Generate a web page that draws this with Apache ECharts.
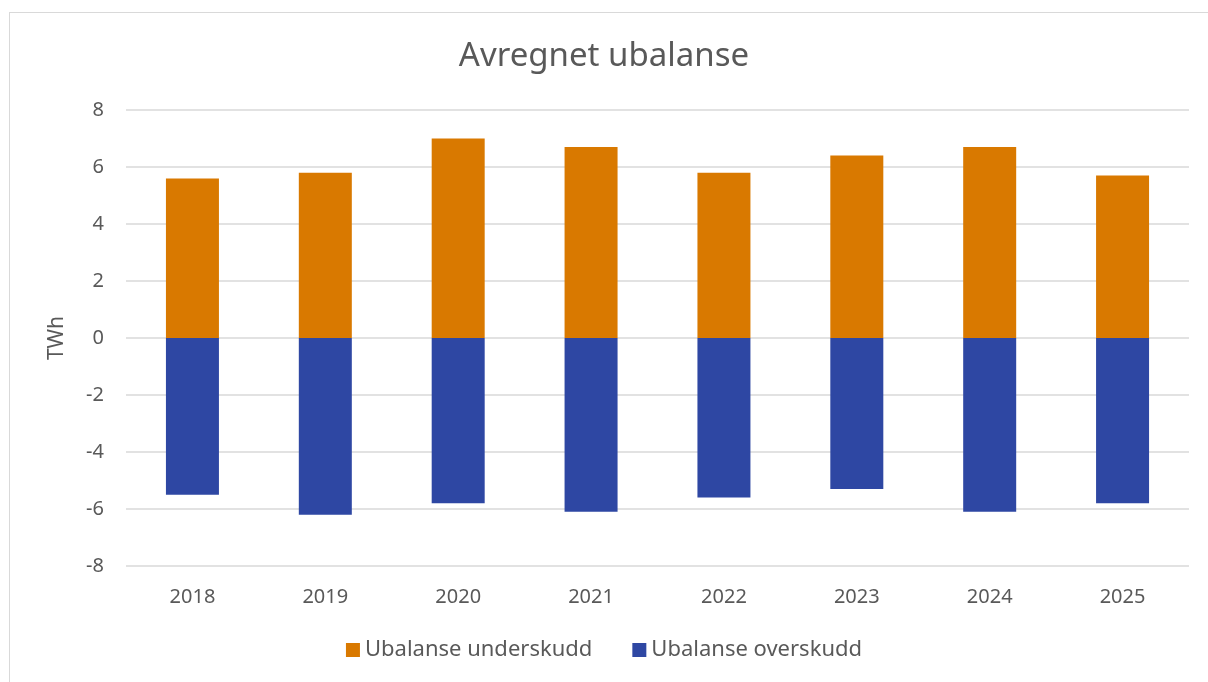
<!DOCTYPE html>
<html>
<head>
<meta charset="utf-8">
<script src="https://cdn.jsdelivr.net/npm/echarts@6/dist/echarts.min.js"></script>
<style>
  html, body { margin: 0; padding: 0; background: #fff; overflow: hidden; }
  #frame { position: absolute; left: 9px; top: 12px; width: 1220px; height: 700px; border: 1px solid #d9d9d9; box-sizing: border-box; }
  #chart { position: absolute; left: 0; top: 0; width: 1208px; height: 682px; }
</style>
</head>
<body>
<div id="frame"></div>
<div id="chart"></div>
<script>
const years = ['2018', '2019', '2020', '2021', '2022', '2023', '2024', '2025']
const underskudd = [5.6, 5.8, 7.0, 6.7, 5.8, 6.4, 6.7, 5.7]
const overskudd = [-5.5, -6.2, -5.8, -6.1, -5.6, -5.3, -6.1, -5.8]

const textColor = '#595959'
const font = '"Noto Sans", "Open Sans", sans-serif'

const chart = echarts.init(document.getElementById('chart'))

chart.setOption({
  animation: false,
  textStyle: { fontFamily: font },
  title: {
    text: 'Avregnet ubalanse',
    left: 'center',
    top: 35,
    textStyle: { color: textColor, fontSize: 33, fontWeight: 'normal', fontFamily: font }
  },
  legend: {
    bottom: 16,
    left: 'center',
    itemWidth: 14,
    itemHeight: 14,
    itemGap: 40,
    icon: 'rect',
    textStyle: { color: textColor, fontSize: 22, fontFamily: font },
    data: ['Ubalanse underskudd', 'Ubalanse overskudd']
  },
  grid: { left: 126, right: 19, top: 110, bottom: 116 },
  xAxis: {
    type: 'category',
    data: years,
    axisLine: { show: false },
    axisTick: { show: false },
    axisLabel: { color: textColor, fontSize: 20, margin: 21 }
  },
  yAxis: {
    type: 'value',
    min: -8,
    max: 8,
    interval: 2,
    name: 'TWh',
    nameLocation: 'middle',
    nameGap: 58,
    nameTextStyle: { color: textColor, fontSize: 21 },
    axisLine: { show: false },
    axisTick: { show: false },
    axisLabel: { color: textColor, fontSize: 20, margin: 22 },
    splitLine: { lineStyle: { color: '#d9d9d9', width: 1.5 } }
  },
  series: [
    {
      name: 'Ubalanse underskudd',
      type: 'bar',
      stack: 'total',
      barWidth: 53,
      data: underskudd,
      itemStyle: { color: '#d97900' }
    },
    {
      name: 'Ubalanse overskudd',
      type: 'bar',
      stack: 'total',
      barWidth: 53,
      data: overskudd,
      itemStyle: { color: '#2e47a3' }
    }
  ]
})
</script>
</body>
</html>
